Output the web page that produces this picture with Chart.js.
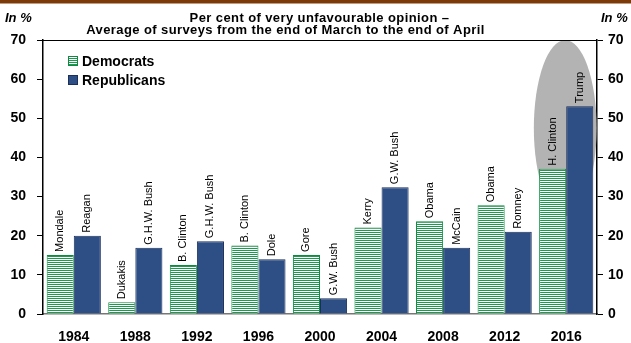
<!DOCTYPE html>
<html>
<head>
<meta charset="utf-8">
<script src="https://cdn.jsdelivr.net/npm/chart.js@4.4.1/dist/chart.umd.min.js"></script>
<style>
html,body{margin:0;padding:0;background:#fff;}
#wrap{width:631px;height:343px;position:relative;}
</style>
</head>
<body>
<div id="wrap"><canvas id="c" width="631" height="343"></canvas></div>
<script>
const years = ['1984','1988','1992','1996','2000','2004','2008','2012','2016'];
const demValues = [15.1, 3.0, 12.5, 17.5, 15.1, 22.1, 23.7, 27.8, 37.1];
const repValues = [20.0, 16.9, 18.6, 14.0, 4.0, 32.4, 16.9, 21.0, 53.1];
const demNames = ['Mondale','Dukakis','B. Clinton','B. Clinton','Gore','Kerry','Obama','Obama','H. Clinton'];
const repNames = ['Reagan','G.H.W. Bush','G.H.W. Bush','Dole','G.W. Bush','G.W. Bush','McCain','Romney','Trump'];
const seriesNames = ['Democrats','Republicans'];
const titleLines = ['Per cent of very unfavourable opinion \u2013','Average of surveys from the end of March to the end of April'];
const unitLabel = 'In %';
const yMin = 0, yMax = 70, yStep = 10;

const FONT = '"Liberation Sans", Arial, sans-serif';
const GREEN = '#1E9A50', GREEN_BORDER = '#0E8A42';
const BLUE = '#2E4F86', BLUE_BORDER = '#1B2F5A';

function makePattern(ctx){
  const p = document.createElement('canvas');
  p.width = 4; p.height = 2;
  const pc = p.getContext('2d');
  pc.fillStyle = '#ffffff'; pc.fillRect(0,0,4,2);
  pc.fillStyle = GREEN; pc.fillRect(0,0,4,1);
  return ctx.createPattern(p,'repeat');
}

const canvas = document.getElementById('c');
const ctx = canvas.getContext('2d');
const stripe = makePattern(ctx);

const decor = {
  id:'decor',
  beforeDatasetsDraw(chart){
    const c = chart.ctx, x = chart.scales.x, y = chart.scales.y;
    const cx = x.getPixelForValue(years.length-1);
    const cw = x.getPixelForValue(1) - x.getPixelForValue(0);
    const top = y.getPixelForValue(yMax);
    const cy = y.getPixelForValue(47.5);
    c.save();
    c.fillStyle = '#B3B3B3';
    c.beginPath();
    c.ellipse(cx-1, cy, cw*0.51, cy-top, 0, 0, Math.PI*2);
    c.fill();
    c.restore();
  },
  afterDatasetsDraw(chart){
    const c = chart.ctx;
    c.save();
    c.font = '11px ' + FONT;
    c.fillStyle = '#000';
    c.textBaseline = 'middle';
    c.textAlign = 'left';
    [demNames, repNames].forEach((names, di) => {
      const meta = chart.getDatasetMeta(di);
      meta.data.forEach((bar, i) => {
        c.save();
        c.translate(bar.x, bar.y - 3);
        c.rotate(-Math.PI/2);
        c.fillText(names[i], 0, 0);
        c.restore();
      });
    });
    c.restore();
  },
  afterDraw(chart){
    const c = chart.ctx, a = chart.chartArea;
    c.save();
    c.fillStyle = '#7B3A08';
    c.fillRect(0,0,chart.width,3.5);
    c.strokeStyle = '#000'; c.lineWidth = 1;
    c.beginPath(); c.moveTo(a.left, a.top+0.5); c.lineTo(a.right, a.top+0.5); c.stroke();
    c.fillStyle = '#000';
    c.textAlign = 'center'; c.textBaseline = 'middle';
    c.font = 'bold 13px ' + FONT;
    c.letterSpacing = '0.4px';
    c.fillText(titleLines[0], 319.5, 18);
    c.fillText(titleLines[1], 285.5, 30);
    c.letterSpacing = '0px';
    c.font = 'italic bold 13px ' + FONT;
    c.textAlign = 'left';
    c.fillText(unitLabel, 5, 18);
    c.fillText(unitLabel, 601, 18);
    const lx = 68, ly = [61, 80];
    c.font = 'bold 14px ' + FONT;
    seriesNames.forEach((n, i) => {
      c.fillStyle = i === 0 ? stripe : BLUE;
      c.fillRect(lx, ly[i]-5, 10, 10);
      c.strokeStyle = i === 0 ? GREEN_BORDER : BLUE_BORDER;
      c.lineWidth = 1;
      c.strokeRect(lx+0.5, ly[i]-4.5, 9, 9);
      c.fillStyle = '#000';
      c.textAlign = 'left'; c.textBaseline = 'middle';
      c.fillText(n, lx + 14, ly[i] + 1);
    });
    c.restore();
  }
};

function yAxis(pos, pad, width){
  return {
    position: pos,
    min: yMin, max: yMax,
    ticks: { stepSize: yStep, color:'#000', font:{family:FONT, size:14, weight:'bold'}, padding:pad },
    grid: { drawOnChartArea:false, drawTicks:true, tickLength:6, color:'#000', lineWidth:1 },
    border: { display:true, color:'#000', width:1.5 },
    afterFit(s){ s.width = width; }
  };
}

new Chart(ctx, {
  type:'bar',
  data:{
    labels: years,
    datasets:[
      { label: seriesNames[0], data: demValues, backgroundColor: stripe, borderColor: GREEN_BORDER, borderWidth: 1, yAxisID:'y' },
      { label: seriesNames[1], data: repValues, backgroundColor: BLUE, borderColor: BLUE_BORDER, borderWidth: 1, yAxisID:'y' }
    ]
  },
  options:{
    responsive:false,
    animation:false,
    layout:{ padding:{ top:40, bottom:0, left:0, right:0 } },
    plugins:{ legend:{display:false}, title:{display:false}, tooltip:{enabled:false} },
    datasets:{ bar:{ categoryPercentage:0.88, barPercentage:1.0 } },
    scales:{
      x:{
        grid:{ display:false },
        border:{ display:true, color:'#777', width:1.5 },
        ticks:{ color:'#000', font:{family:FONT, size:14, weight:'bold'}, padding:7 },
        afterFit(s){ s.height = 29; }
      },
      y: yAxis('left', 11, 43),
      y2: yAxis('right', 5, 34)
    }
  },
  plugins:[decor]
});
</script>
</body>
</html>
